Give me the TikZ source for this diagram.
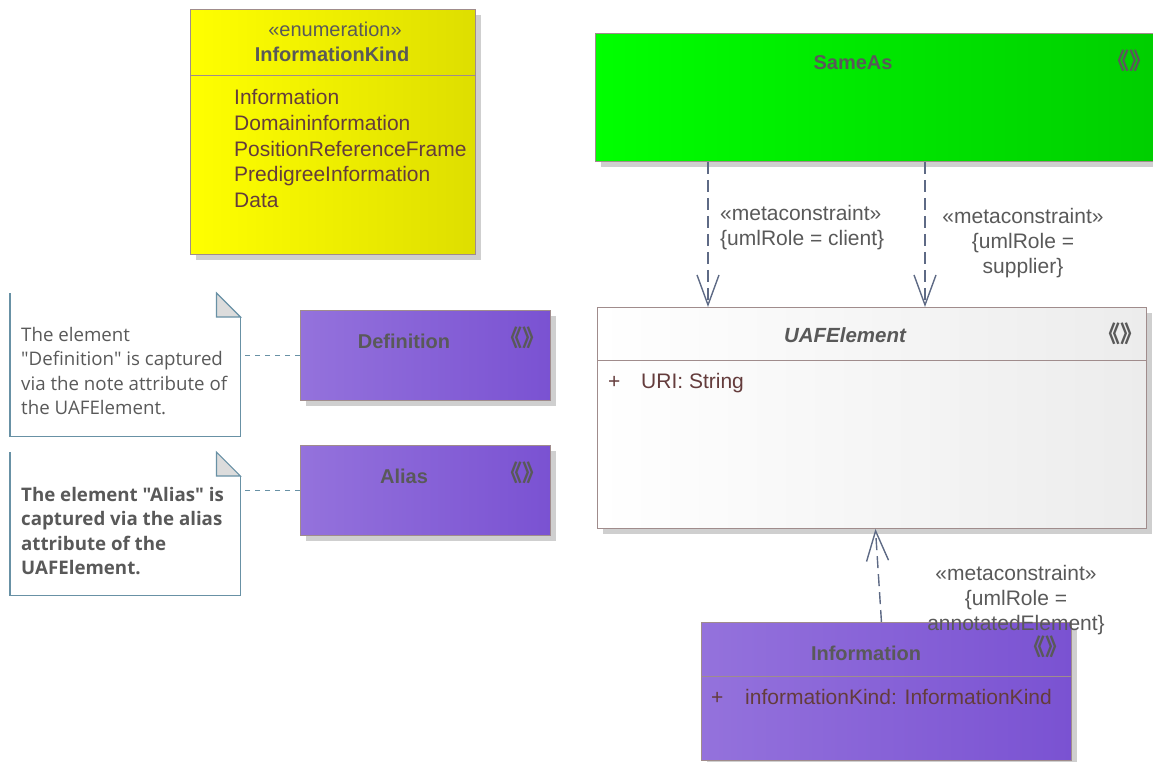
\documentclass[tikz,border=0pt]{standalone}
\usepackage{fontspec}
\setmainfont{Liberation Sans}
\newfontfamily\notefont{Open Sans}
\newfontfamily\cjkfont{Noto Sans CJK SC}
\usetikzlibrary{calc,arrows.meta,shadows}
\definecolor{boxline}{RGB}{160,140,140}
\definecolor{headtext}{RGB}{89,89,89}
\definecolor{attrtext}{RGB}{100,60,60}
\definecolor{noteline}{RGB}{104,145,165}
\definecolor{notefold}{RGB}{220,220,220}
\definecolor{linkline}{RGB}{94,106,133}
\definecolor{enumleft}{RGB}{255,255,0}
\definecolor{enumright}{RGB}{222,222,0}
\definecolor{greenleft}{RGB}{0,255,0}
\definecolor{greenright}{RGB}{0,206,0}
\definecolor{purpleleft}{RGB}{148,114,220}
\definecolor{purpleright}{RGB}{122,82,210}
\definecolor{greyright}{RGB}{236,236,236}

% stereotype marker in the class header
\newcommand{\stereomark}{{\cjkfont\fontsize{23}{23}\selectfont\bfseries 《》}}

\begin{document}
\begin{tikzpicture}[x=1pt,y=-1pt,
  umlbox/.style={anchor=north west, draw=boxline, line width=0.9pt, inner sep=0pt,
    drop shadow={shadow xshift=6pt, shadow yshift=-6pt, fill=black!19, opacity=1}},
  headline/.style={font=\fontsize{20}{24}\selectfont\bfseries, text=headtext},
  attr/.style={font=\fontsize{21}{25}\selectfont, text=attrtext, anchor=base west, inner sep=0pt},
  linklabel/.style={font=\fontsize{21}{25}\selectfont, text=headtext, align=center, inner sep=0pt},
  notetext/.style={font=\notefont\fontsize{18.7}{24.2}\selectfont, text=headtext, align=left, anchor=west, inner sep=0pt},
  depend/.style={draw=linkline, line width=1.4pt, dash pattern=on 12pt off 6pt,
    -{Straight Barb[length=30pt,width=22pt,line width=1.4pt]}},
  notelink/.style={draw=noteline, line width=1.2pt, dash pattern=on 5pt off 5pt}]
\useasboundingbox (0,0) rectangle (1153,762);

% Enumeration
\node[umlbox, left color=enumleft, right color=enumright, minimum width=285, minimum height=245] (kind) at (190,9) {};
\draw[boxline, line width=0.9pt] ($(kind.north west)+(0,66)$) -- ($(kind.north east)+(0,66)$);
\node[font=\fontsize{20}{24}\selectfont, text=headtext] (kindst) at (335,29) {«enumeration»};
\node[headline] (kindname) at (332,54) {InformationKind};
\foreach \lit [count=\k from 0] in {Information,Domaininformation,PositionReferenceFrame,PredigreeInformation,Data}
  \node[attr] (lit\k) at (234,104.5+\k*25.8) {\lit};

% SameAs
\node[umlbox, left color=greenleft, right color=greenright, minimum width=565, minimum height=128] (sameas) at (595,33) {};
\node[headline] (sameasname) at (853,63) {SameAs};
\node[text=headtext] (sameasst) at (1129,61) {\stereomark};

% UAFElement
\node[umlbox, left color=white, right color=greyright, minimum width=549, minimum height=221] (uaf) at (597,307) {};
\draw[boxline, line width=0.9pt] ($(uaf.north west)+(0,53)$) -- ($(uaf.north east)+(0,53)$);
\node[headline, font=\fontsize{20.5}{24}\selectfont\bfseries\itshape] (uafname) at (845,335) {UAFElement};
\node[text=headtext] (uafst) at (1120,334) {\stereomark};
\node[attr] (uafvis) at (608,388.5) {+};
\node[attr] (uafuri) at (641,388.5) {URI: String};

% Definition and Alias
\node[umlbox, left color=purpleleft, right color=purpleright, minimum width=250, minimum height=90] (def) at (300,310) {};
\node[headline] (defname) at (404,341) {Definition};
\node[text=headtext] (defst) at (522,338) {\stereomark};

\node[umlbox, left color=purpleleft, right color=purpleright, minimum width=250, minimum height=90] (alias) at (300,445) {};
\node[headline] (aliasname) at (404,476) {Alias};
\node[text=headtext] (aliasst) at (522,473) {\stereomark};

% Information
\node[umlbox, left color=purpleleft, right color=purpleright, minimum width=370, minimum height=138] (info) at (701,622) {};
\draw[boxline, line width=0.9pt] ($(info.north west)+(0,54)$) -- ($(info.north east)+(0,54)$);
\node[headline] (infoname) at (866,653) {Information};
\node[text=headtext] (infost) at (1045,647) {\stereomark};
\node[attr] (infovis) at (711,704.5) {+};
\node[attr] (infoattr) at (745,704.5) {informationKind: InformationKind};

% Notes
\node[anchor=north west, minimum width=230, minimum height=143, inner sep=0pt] (defnote) at (10,293) {};
\draw[noteline, line width=1.2pt] (defnote.north west) -- (defnote.south west) -- (defnote.south east) -- ($(defnote.north east)+(0,24)$);
\filldraw[draw=noteline, fill=notefold, line width=1.2pt] ($(defnote.north east)+(-24,0)$) -- ($(defnote.north east)+(0,24)$) -- ($(defnote.north east)+(-24,24)$) -- cycle;
\node[notetext] (defnotetext) at (21,371) {The element\\"Definition" is captured\\via the note attribute of\\the UAFElement.};

\node[anchor=north west, minimum width=230, minimum height=143, inner sep=0pt] (aliasnote) at (10,452) {};
\draw[noteline, line width=1.2pt] (aliasnote.north west) -- (aliasnote.south west) -- (aliasnote.south east) -- ($(aliasnote.north east)+(0,24)$);
\filldraw[draw=noteline, fill=notefold, line width=1.2pt] ($(aliasnote.north east)+(-24,0)$) -- ($(aliasnote.north east)+(0,24)$) -- ($(aliasnote.north east)+(-24,24)$) -- cycle;
\node[notetext, font=\notefont\fontsize{18.7}{24.4}\selectfont\bfseries] (aliasnotetext) at (21,531) {The element "Alias" is\\captured via the alias\\attribute of the\\UAFElement.};

\draw[notelink] (def.west) -- (def.west -| defnote.east);
\draw[notelink] (alias.west) -- (alias.west -| aliasnote.east);

% Metaconstraints
\coordinate (clientx) at (708,0);
\coordinate (supplierx) at (925,0);
\draw[depend] (sameas.south -| clientx) -- (uaf.north -| clientx);
\draw[depend] (sameas.south -| supplierx) -- (uaf.north -| supplierx);
\draw[depend] ($(info.north)+(-5,0)$) -- ($(uaf.south)+(3.5,0)$);

\node[linklabel, align=left, anchor=west] (clientlbl) at (720,228) {«metaconstraint»\\\{umlRole = client\}};
\node[linklabel] (supplierlbl) at (1023,243) {«metaconstraint»\\\{umlRole =\\supplier\}};
\node[linklabel] (annotlbl) at (1016,600) {«metaconstraint»\\\{umlRole =\\annotatedElement\}};
\end{tikzpicture}
\end{document}
